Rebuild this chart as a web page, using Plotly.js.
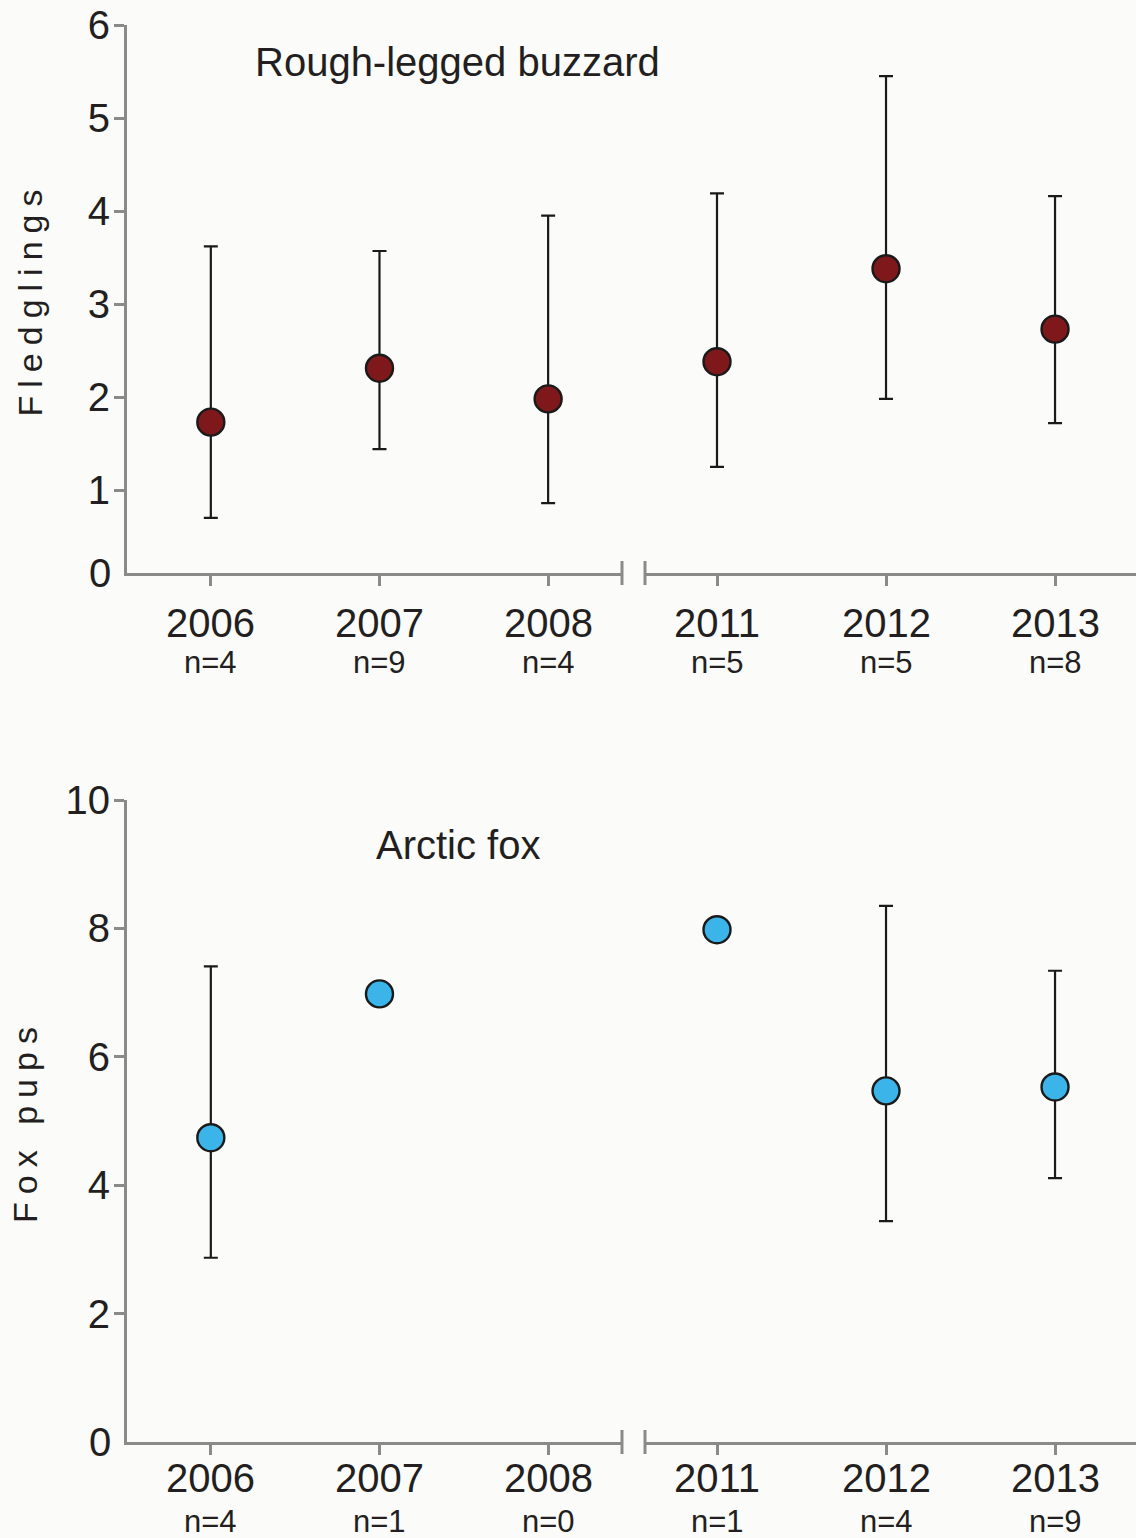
<!DOCTYPE html>
<html>
<head>
<meta charset="utf-8">
<script src="https://cdn.plot.ly/plotly-3.0.1.min.js"></script>
<style>
  html, body { margin: 0; padding: 0; background: #fbfbf9; }
  #chart { width: 1136px; height: 1538px; }
  text.ytitle, text.y2title { letter-spacing: 8px; }
</style>
</head>
<body>
<div id="chart"></div>
<script>
// ---- data ----
const years = ['2006', '2007', '2008', '2011', '2012', '2013'];

// Rough-legged buzzard: fledglings
const buzzardMean  = [1.73, 2.31, 1.98, 2.38, 3.38, 2.73];
const buzzardUpper = [3.62, 3.57, 3.95, 4.19, 5.45, 4.16];
const buzzardLower = [0.70, 1.44, 0.86, 1.25, 1.98, 1.72];
const buzzardN     = ['n=4', 'n=9', 'n=4', 'n=5', 'n=5', 'n=8'];

// Arctic fox: pups
const foxMean  = [4.74, 6.98, null, 7.98, 5.47, 5.53];
const foxUpper = [7.41, null, null, null, 8.35, 7.34];
const foxLower = [2.87, null, null, null, 3.44, 4.11];
const foxN     = ['n=4', 'n=1', 'n=0', 'n=1', 'n=4', 'n=9'];

const buzzardTicks = [1, 2, 3, 4, 5, 6];
const foxTicks = [2, 4, 6, 8, 10];

// ---- style ----
const FONT = '"Liberation Sans", Arial, sans-serif';
const TXT = '#231f20';
const AX = '#8a8a8a';
const BG = '#fbfbf9';
const H = 1538;
const W = 1136;
const ML = 127;
const PW = W - ML;
const topY0 = 0.108; // axis line position of the top panel

// years before the break go on the left axis segment, the others on the right one
const L = [0, 1, 2], R = [3, 4, 5];
const segPos = i => (i < 3 ? i : i - 3);

function mkTrace(idx, mean, up, lo, xa, ya, color) {
  return {
    type: 'scatter', mode: 'markers',
    x: idx.map(segPos),
    y: idx.map(i => mean[i]),
    text: idx.map(i => years[i]),
    xaxis: xa, yaxis: ya,
    marker: { size: 27, color: color, line: { color: '#1a1a1a', width: 2.4 } },
    error_y: {
      type: 'data', symmetric: false,
      array: idx.map(i => (mean[i] == null || up[i] == null) ? null : up[i] - mean[i]),
      arrayminus: idx.map(i => (mean[i] == null || lo[i] == null) ? null : mean[i] - lo[i]),
      color: '#1a1a1a', thickness: 2.2, width: 7
    },
    hoverinfo: 'text+y', showlegend: false, cliponaxis: false
  };
}

const RED = '#7e181b', BLUE = '#3bb5e9';
const data = [
  mkTrace(L, buzzardMean, buzzardUpper, buzzardLower, 'x', 'y', RED),
  mkTrace(R, buzzardMean, buzzardUpper, buzzardLower, 'x2', 'y', RED),
  mkTrace(L, foxMean, foxUpper, foxLower, 'x3', 'y2', BLUE),
  mkTrace(R, foxMean, foxUpper, foxLower, 'x4', 'y2', BLUE)
];

function xax(domain, range, anchor) {
  return {
    type: 'linear', domain: domain, range: range, anchor: anchor,
    tickmode: 'array', tickvals: [0, 1, 2],
    showline: true, linecolor: AX, linewidth: 3,
    ticks: 'outside', ticklen: 10, tickwidth: 3, tickcolor: AX,
    showticklabels: false, showgrid: false, zeroline: false, fixedrange: true
  };
}

const dL = [0, (622 - ML) / PW], dR = [(645 - ML) / PW, 1];
const rL = [-0.497, 2.438], rR = [-0.426, 2.479];

const annotations = [];
function xLabels(nArr, axL, axR, yYear, yN) {
  years.forEach((yr, i) => {
    const xa = i < 3 ? axL : axR;
    annotations.push({ xref: xa, yref: 'paper', x: segPos(i), y: yYear, text: yr, showarrow: false,
      xanchor: 'center', yanchor: 'middle', font: { family: FONT, size: 40, color: TXT } });
    annotations.push({ xref: xa, yref: 'paper', x: segPos(i), y: yN, text: nArr[i], showarrow: false,
      xanchor: 'center', yanchor: 'middle', font: { family: FONT, size: 31, color: TXT } });
  });
}
xLabels(buzzardN, 'x', 'x2', 1 - 623 / H, 1 - 663 / H);
xLabels(foxN, 'x3', 'x4', 1 - 1478 / H, 1 - 1521 / H);

// "0" labels at the axis corners
annotations.push({ xref: 'paper', yref: 'y', x: 0, y: topY0, text: '0', showarrow: false,
  xanchor: 'right', yanchor: 'middle', xshift: -14, font: { family: FONT, size: 40, color: TXT } });
annotations.push({ xref: 'paper', yref: 'y2', x: 0, y: 0, text: '0', showarrow: false,
  xanchor: 'right', yanchor: 'middle', xshift: -14, font: { family: FONT, size: 40, color: TXT } });

// panel names
annotations.push({ xref: 'paper', yref: 'paper', x: (457 - ML) / PW, y: 1 - 62 / H,
  text: 'Rough-legged buzzard', showarrow: false, xanchor: 'center', yanchor: 'middle',
  font: { family: FONT, size: 40, color: TXT } });
annotations.push({ xref: 'paper', yref: 'paper', x: (458 - ML) / PW, y: 1 - 845 / H,
  text: 'Arctic fox', showarrow: false, xanchor: 'center', yanchor: 'middle',
  font: { family: FONT, size: 40, color: TXT } });

// axis break end bars
const shapes = [];
[['x', 1, 'y'], ['x2', 0, 'y'], ['x3', 1, 'y2'], ['x4', 0, 'y2']].forEach(([xa, pos, ya]) => {
  shapes.push({ type: 'line', xref: xa + ' domain', yref: ya + ' domain', x0: pos, x1: pos,
    ysizemode: 'pixel', yanchor: 0, y0: -12, y1: 12, line: { color: AX, width: 3 } });
});

function yax(domain, range, ticks, anchor, title, standoff) {
  return {
    domain: domain, range: range, anchor: anchor,
    tickmode: 'array', tickvals: ticks, ticktext: ticks.map(String),
    showline: true, linecolor: AX, linewidth: 3,
    ticks: 'outside', ticklen: 10, tickwidth: 3, tickcolor: AX,
    ticklabelstandoff: -4,
    tickfont: { family: FONT, size: 40, color: TXT },
    showgrid: false, zeroline: false, fixedrange: true,
    title: { text: title, font: { family: FONT, size: 34, color: TXT }, standoff: standoff },
    automargin: false
  };
}

const layout = {
  width: W, height: H,
  margin: { l: ML, r: 0, t: 0, b: 0 },
  paper_bgcolor: BG, plot_bgcolor: BG,
  showlegend: false,
  xaxis: xax(dL, rL, 'y'),
  xaxis2: xax(dR, rR, 'y'),
  xaxis3: xax(dL, rL, 'y2'),
  xaxis4: xax(dR, rR, 'y2'),
  yaxis: yax([1 - 573 / H, 1 - 25 / H], [topY0, 6], buzzardTicks, 'x', 'Fledglings', 35),
  yaxis2: yax([1 - 1442 / H, 1 - 800 / H], [0, 10], foxTicks, 'x3', 'Fox pups', 18),
  annotations: annotations,
  shapes: shapes
};

Plotly.newPlot('chart', data, layout, { displayModeBar: false, staticPlot: true });
</script>
</body>
</html>
